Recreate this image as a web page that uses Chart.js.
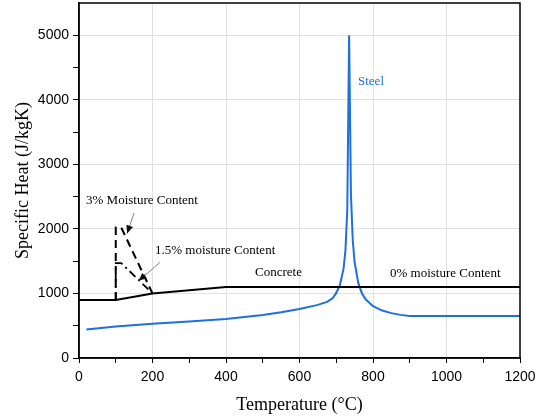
<!DOCTYPE html>
<html><head><meta charset="utf-8">
<script src="https://cdn.jsdelivr.net/npm/chart.js@4/dist/chart.umd.min.js"></script>
<style>html,body{margin:0;padding:0;background:#fff}#wrap{width:547px;height:416px}</style>
</head><body><div id="wrap"><canvas id="c" width="547" height="416"></canvas></div>
<script>
// Steel
const steelT = [20,100,200,300,400,500,550,600,650,675,690,700,710,720,725,730,735,740,745,750,760,770,780,800,825,850,875,900,1000,1100,1200];
const steelC = [440,488,530,565,606,667,710,760,823,870,925,1008,1130,1388,1666,2291,5000,2525,1818,1483,1160,1000,909,803,735,695,668,650,650,650,650];
// Concrete 0% moisture
const conc0T = [0,100,200,400,1200];
const conc0C = [900,900,1000,1100,1100];
// Concrete 3% moisture peak
const conc3T = [100,100,115,200];
const conc3C = [900,2020,2020,1000];
// Concrete 1.5% moisture peak
const conc15T = [100,100,115,200];
const conc15C = [900,1470,1470,1000];
const xTickLabels = [0,200,400,600,800,1000,1200];
const yTickLabels = [0,1000,2000,3000,4000,5000];

const pts = (xs, ys) => xs.map((x,i)=>({x, y: ys[i]}));
const serif = "'Liberation Serif','Times New Roman',serif";
const sans = "'Liberation Sans',Arial,sans-serif";

const annots = [
  {text:'3% Moisture Content', x:86, y:201, color:'#000'},
  {text:'1.5% moisture Content', x:155, y:251, color:'#000'},
  {text:'Concrete', x:255, y:273, color:'#000'},
  {text:'0% moisture Content', x:390, y:274, color:'#000'},
  {text:'Steel', x:358, y:82, color:'#1f6fe0'}
];
// arrows in data coords: [fromT, fromC, toT, toC]
const arrows = [[150,2250,131,1930],[220,1480,162,1195]];

const overlay = {
  id:'overlay',
  afterDraw(chart){
    const ctx = chart.ctx, xs = chart.scales.x, ys = chart.scales.y, a = chart.chartArea;
    ctx.save();
    ctx.strokeStyle='#000'; ctx.lineWidth=1.5;
    ctx.strokeRect(a.left, a.top, a.right-a.left, a.bottom-a.top);
    ctx.font = '13px ' + serif; ctx.textBaseline='middle'; ctx.textAlign='left';
    annots.forEach(t=>{ctx.fillStyle=t.color; ctx.fillText(t.text, t.x, t.y);});
    arrows.forEach(([x1,y1,x2,y2])=>{
      const px1=xs.getPixelForValue(x1), py1=ys.getPixelForValue(y1);
      const px2=xs.getPixelForValue(x2), py2=ys.getPixelForValue(y2);
      ctx.strokeStyle='#777'; ctx.lineWidth=0.9;
      ctx.beginPath(); ctx.moveTo(px1,py1); ctx.lineTo(px2,py2); ctx.stroke();
      const ang=Math.atan2(py2-py1,px2-px1), L=8, W=3.5;
      ctx.fillStyle='#111'; ctx.beginPath();
      ctx.moveTo(px2,py2);
      ctx.lineTo(px2-L*Math.cos(ang)+W*Math.sin(ang), py2-L*Math.sin(ang)-W*Math.cos(ang));
      ctx.lineTo(px2-L*Math.cos(ang)-W*Math.sin(ang), py2-L*Math.sin(ang)+W*Math.cos(ang));
      ctx.closePath(); ctx.fill();
    });
    ctx.restore();
  }
};

const line = (data,color,dash,w) => ({data, borderColor:color, borderWidth:w||2, borderDash:dash||[], pointRadius:0, tension:0, fill:false});

new Chart(document.getElementById('c'), {
  type:'line',
  data:{datasets:[
    line(pts(conc15T,conc15C),'#000',[8,4,2,4],1.8),
    line(pts(conc3T,conc3C),'#000',[8,5],2),
    line(pts(conc0T,conc0C),'#000',[],2),
    line(pts(steelT,steelC),'#1f6fe0',[],2)
  ]},
  options:{
    responsive:false, animation:false,
    plugins:{legend:{display:false}, tooltip:{enabled:false}},
    layout:{padding:{top:3,right:27,left:0,bottom:0}},
    scales:{
      x:{type:'linear', min:0, max:1200,
        afterFit(s){s.height=58;},
        border:{color:'#000', width:1.5},
        grid:{color:c=>c.tick && c.tick.value%200===0 && c.tick.value>0 && c.tick.value<1200 ? '#e2e2e2':'rgba(0,0,0,0)', tickColor:'#000', tickLength:5, lineWidth:1},
        ticks:{stepSize:100, autoSkip:false, maxRotation:0, color:'#000', font:{family:sans,size:14}, padding:6,
          callback:v=>xTickLabels.includes(v)?String(v):''},
        title:{display:true, text:'Temperature (°C)', color:'#000', font:{family:serif,size:18}, padding:{top:10,bottom:0}}
      },
      y:{type:'linear', min:0, max:5500,
        afterFit(s){s.width=79; s.paddingTop=0;},
        border:{color:'#000', width:1.5},
        grid:{color:c=>c.tick && c.tick.value%1000===0 && c.tick.value>0 ? '#e2e2e2':'rgba(0,0,0,0)', tickColor:'#000', tickLength:6, lineWidth:1},
        ticks:{stepSize:500, autoSkip:false, color:'#000', font:{family:sans,size:14}, padding:4,
          callback:v=>v>=5500?null:(yTickLabels.includes(v)?String(v):'')},
        title:{display:true, text:'Specific Heat (J/kgK)', color:'#000', font:{family:serif,size:18}, padding:{top:12,bottom:4}}
      }
    }
  },
  plugins:[overlay]
});
</script></body></html>
